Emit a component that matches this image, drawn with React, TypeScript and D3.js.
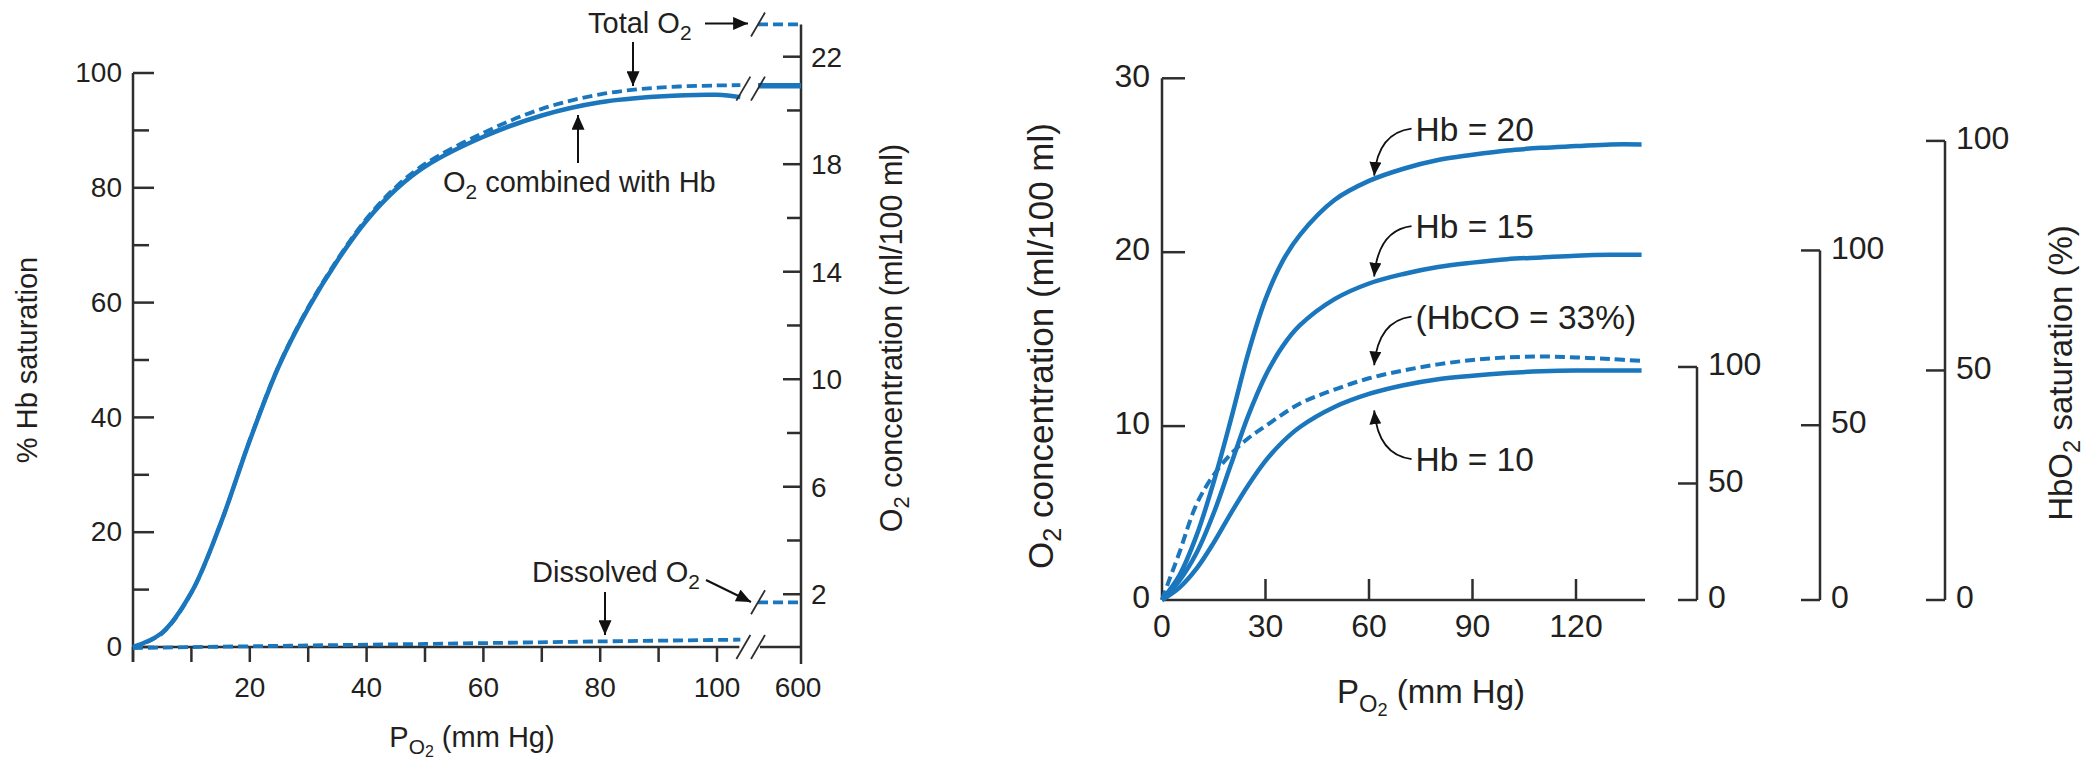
import React from "react";
import * as d3 from "d3";

// ---------- Left chart data ----------
const po2Left = [0, 5, 10, 15, 20, 25, 30, 35, 40, 45, 50, 60, 70, 80, 90, 100, 104];
const hbSaturationPct = [0, 2.5, 9.5, 21.5, 36, 49, 59, 67.3, 74.3, 79.7, 83.7, 88.9, 92.6, 94.9, 95.9, 96.2, 95.8];
const totalO2Ml = [0, 0.55, 2.06, 4.63, 7.74, 10.53, 12.68, 14.46, 15.98, 17.15, 18.01, 19.17, 20.06, 20.6, 20.85, 20.93, 20.94];
const po2Dissolved = [0, 25, 50, 75, 104];
const dissolvedMl = [0, 0.08, 0.15, 0.23, 0.31];
const po2Break = [595, 600];
const totalO2At600 = 23.2;
const hbSatAt600 = 97.8;
const dissolvedAt600 = 1.7;
const leftYTicks = [0, 10, 20, 30, 40, 50, 60, 70, 80, 90, 100];
const leftYLabels = [0, 20, 40, 60, 80, 100];
const leftXTicks = [0, 10, 20, 30, 40, 50, 60, 70, 80, 90, 100];
const leftXLabels = [20, 40, 60, 80, 100];
const breakLabel = 600;
const mlTicks = [2, 4, 6, 8, 10, 12, 14, 16, 18, 20, 22];
const mlLabels = [2, 6, 10, 14, 18, 22];

// ---------- Right chart data ----------
const po2Right = [0, 5, 10, 15, 20, 25, 30, 35, 40, 50, 60, 70, 80, 90, 100, 110, 120, 130, 139];
const hb20 = [0, 1.4, 3.7, 6.8, 10.4, 14.2, 17.3, 19.5, 21.0, 23.0, 24.1, 24.8, 25.3, 25.6, 25.85, 26.0, 26.1, 26.2, 26.2];
const hb15 = [0, 1.1, 2.7, 5.0, 7.8, 10.6, 12.9, 14.6, 15.8, 17.3, 18.2, 18.75, 19.15, 19.4, 19.6, 19.7, 19.8, 19.85, 19.85];
const hb10 = [0, 0.7, 1.8, 3.3, 5.0, 6.6, 8.0, 9.1, 9.95, 11.1, 11.85, 12.35, 12.7, 12.9, 13.05, 13.15, 13.2, 13.2, 13.2];
const po2HbCO = [0, 2, 5, 10, 15, 20, 25, 30, 40, 50, 60, 70, 80, 90, 100, 110, 120, 130, 139];
const hbco33 = [0, 1.1, 2.7, 5.5, 7.2, 8.4, 9.3, 10.0, 11.3, 12.1, 12.75, 13.2, 13.55, 13.8, 13.95, 14.0, 13.95, 13.85, 13.75];
const rightXTicks = [0, 30, 60, 90, 120];
const rightYTicks = [0, 10, 20, 30];
const hbLevels = [10, 15, 20];
const hbCapacityMl = [13.4, 20.1, 26.4];
const satTicks = [0, 50, 100];
const curveLabels = ["Hb = 20", "Hb = 15", "(HbCO = 33%)", "Hb = 10"];
const labelMl = [27.1, 21.5, 16.3, 8.1];
const arrowTipMl = [24.4, 18.6, 13.5, 10.9];

// ---------- styles ----------
const BLUE = "#1a76bd";
const INK = "#231f20";
const AXIS = "#2e2e2e";
const FONT = "'Liberation Sans', Arial, Helvetica, sans-serif";

export default function App() {
  const xL = d3.scaleLinear().domain([0, 100]).range([133, 717]);
  const yPct = d3.scaleLinear().domain([0, 100]).range([647, 73]);
  const yMl = d3.scaleLinear().domain([0, 22]).range([648, 56.7]);
  const xBr = d3.scaleLinear().domain([595, 600]).range([758, 801]);

  const xR = d3.scaleLinear().domain([0, 140]).range([1162, 1645]);
  const yR = d3.scaleLinear().domain([0, 30]).range([600, 78.3]);
  const secX = [1697, 1820, 1945];

  const lineL = d3.line<[number, number]>().curve(d3.curveCatmullRom.alpha(0.5));

  const hbPath = lineL(po2Left.map((p, i) => [xL(p), yPct(hbSaturationPct[i])]));
  const totPath = lineL(po2Left.map((p, i) => [xL(p), yMl(totalO2Ml[i])]));
  const disPath = lineL(po2Dissolved.map((p, i) => [xL(p), yMl(dissolvedMl[i])]));

  const rPath = (xs: number[], ys: number[]) =>
    lineL(xs.map((p, i) => [xR(p), yR(ys[i])]));

  const slash = (cx: number, cy: number, key: string) => (
    <line key={key} x1={cx - 7} y1={cy + 12} x2={cx + 7} y2={cy - 12} stroke={AXIS} strokeWidth={1.8} />
  );

  const breakLeft = xL(104) + 3;
  const breakRight = xBr(595);

  const tickFontL = 28;
  const annFontL = 29;
  const tickFontR = 32;
  const annFontR = 33.5;

  return (
    <svg
      width={2097}
      height={764}
      style={{ position: "absolute", left: 0, top: 0, background: "#fff" }}
      fontFamily={FONT}
    >
      <defs>
        <marker id="ah" markerUnits="userSpaceOnUse" viewBox="0 0 16 14" markerWidth={16} markerHeight={13} refX={16} refY={7} orient="auto">
          <path d="M0,0 L16,7 L0,14 Z" fill="#111" />
        </marker>
        <marker id="ahs" markerUnits="userSpaceOnUse" viewBox="0 0 16 14" markerWidth={14} markerHeight={12} refX={16} refY={7} orient="auto">
          <path d="M0,0 L16,7 L0,14 Z" fill="#111" />
        </marker>
      </defs>

      {/* ================= LEFT CHART ================= */}
      <line x1={xL(0)} y1={yPct(100)} x2={xL(0)} y2={yPct(0) + 15} stroke={AXIS} strokeWidth={2.5} />
      {leftYTicks.map((t) => (
        <line key={"ly" + t} x1={xL(0)} x2={xL(0) + (t % 20 === 0 ? 21 : 16)} y1={yPct(t)} y2={yPct(t)} stroke={AXIS} strokeWidth={2.5} />
      ))}
      {leftYLabels.map((t) => (
        <text key={"lyl" + t} x={xL(0) - 11} y={yPct(t)} dy="0.33em" textAnchor="end" fontSize={tickFontL} fill={INK}>{t}</text>
      ))}
      <line x1={xL(0)} y1={yPct(0)} x2={breakLeft - 4} y2={yPct(0)} stroke={AXIS} strokeWidth={2.5} />
      <line x1={breakRight + 2} y1={yPct(0)} x2={xBr(600)} y2={yPct(0)} stroke={AXIS} strokeWidth={2.5} />
      {leftXTicks.map((t) => (
        <line key={"lx" + t} x1={xL(t)} x2={xL(t)} y1={yPct(0)} y2={yPct(0) + 15} stroke={AXIS} strokeWidth={2.5} />
      ))}
      {leftXLabels.map((t) => (
        <text key={"lxl" + t} x={xL(t)} y={697} textAnchor="middle" fontSize={tickFontL} fill={INK}>{t}</text>
      ))}
      <text x={xBr(600) - 3} y={697} textAnchor="middle" fontSize={tickFontL} fill={INK}>{breakLabel}</text>
      {slash(breakLeft, yPct(0), "bs1")}
      {slash(breakRight, yPct(0), "bs2")}

      <line x1={xBr(600)} y1={yMl(totalO2At600)} x2={xBr(600)} y2={yMl(0) + 16} stroke={AXIS} strokeWidth={2.5} />
      {mlTicks.map((t) => (
        <line key={"ry" + t} x1={xBr(600)} x2={xBr(600) - (mlLabels.includes(t) ? 18 : 14)} y1={yMl(t)} y2={yMl(t)} stroke={AXIS} strokeWidth={2.5} />
      ))}
      {mlLabels.map((t) => (
        <text key={"ryl" + t} x={xBr(600) + 10} y={yMl(t)} dy="0.35em" fontSize={tickFontL} fill={INK}>{t}</text>
      ))}

      <path d={totPath || ""} fill="none" stroke={BLUE} strokeWidth={3.8} strokeDasharray="10 5" />
      <path d={hbPath || ""} fill="none" stroke={BLUE} strokeWidth={4.5} />
      <path d={disPath || ""} fill="none" stroke={BLUE} strokeWidth={3.8} strokeDasharray="10 5" />

      <line x1={xBr(po2Break[0])} x2={xBr(po2Break[1])} y1={yMl(totalO2At600)} y2={yMl(totalO2At600)} stroke={BLUE} strokeWidth={3.8} strokeDasharray="10 5" />
      <line x1={xBr(po2Break[0])} x2={xBr(po2Break[1])} y1={yPct(hbSatAt600)} y2={yPct(hbSatAt600)} stroke={BLUE} strokeWidth={5.5} />
      <line x1={xBr(po2Break[0])} x2={xBr(po2Break[1])} y1={yMl(dissolvedAt600)} y2={yMl(dissolvedAt600)} stroke={BLUE} strokeWidth={3.8} strokeDasharray="10 5" />
      {slash(breakRight, yMl(totalO2At600), "ts")}
      {slash(breakLeft, yPct(hbSatAt600) + 3, "hs1")}
      {slash(breakRight, yPct(hbSatAt600) + 3, "hs2")}
      {slash(breakRight, yMl(dissolvedAt600), "ds")}

      <text x={588} y={33} fontSize={annFontL} fill={INK}>
        Total O<tspan dy={7} fontSize="0.72em">2</tspan>
      </text>
      <line x1={705} y1={yMl(totalO2At600) - 1} x2={748} y2={yMl(totalO2At600) - 1} stroke="#111" strokeWidth={2} markerEnd="url(#ah)" />
      <line x1={633} y1={42} x2={633} y2={86} stroke="#111" strokeWidth={2} markerEnd="url(#ah)" />

      <text x={443} y={192} fontSize={annFontL} fill={INK}>
        O<tspan dy={7} fontSize="0.72em">2</tspan><tspan dy={-7}> combined with Hb</tspan>
      </text>
      <line x1={578} y1={163} x2={578} y2={115} stroke="#111" strokeWidth={2} markerEnd="url(#ah)" />

      <text x={532} y={582} fontSize={annFontL} fill={INK}>
        Dissolved O<tspan dy={7} fontSize="0.72em">2</tspan>
      </text>
      <line x1={605} y1={592} x2={605} y2={635} stroke="#111" strokeWidth={2} markerEnd="url(#ah)" />
      <line x1={706} y1={580} x2={751} y2={602} stroke="#111" strokeWidth={2} markerEnd="url(#ah)" />

      <text transform="translate(37,360) rotate(-90)" textAnchor="middle" fontSize={annFontL} fill={INK}>% Hb saturation</text>
      <text transform="translate(902,338) rotate(-90)" textAnchor="middle" fontSize={30.5} fill={INK}>
        O<tspan dy={7} fontSize="0.72em">2</tspan><tspan dy={-7}> concentration (ml/100 ml)</tspan>
      </text>
      <text x={472} y={747} textAnchor="middle" fontSize={annFontL} fill={INK}>
        P<tspan dy={7} fontSize="0.72em">O</tspan><tspan dy={3} fontSize="0.55em">2</tspan><tspan dy={-10}> (mm Hg)</tspan>
      </text>

      {/* ================= RIGHT CHART ================= */}
      <line x1={xR(0)} y1={yR(30)} x2={xR(0)} y2={yR(0)} stroke={AXIS} strokeWidth={2.5} />
      <line x1={xR(0)} y1={yR(0)} x2={xR(140)} y2={yR(0)} stroke={AXIS} strokeWidth={2.5} />
      {rightYTicks.filter((t) => t > 0).map((t) => (
        <line key={"rty" + t} x1={xR(0)} x2={xR(0) + 23} y1={yR(t)} y2={yR(t)} stroke={AXIS} strokeWidth={2.5} />
      ))}
      {rightYTicks.map((t) => (
        <text key={"rtyl" + t} x={xR(0) - 12} y={yR(t) - 3} dy="0.35em" textAnchor="end" fontSize={tickFontR} fill={INK}>{t}</text>
      ))}
      {rightXTicks.filter((t) => t > 0).map((t) => (
        <line key={"rtx" + t} x1={xR(t)} x2={xR(t)} y1={yR(0)} y2={yR(0) - 21} stroke={AXIS} strokeWidth={2.5} />
      ))}
      {rightXTicks.map((t) => (
        <text key={"rtxl" + t} x={xR(t)} y={637} textAnchor="middle" fontSize={tickFontR} fill={INK}>{t}</text>
      ))}

      <path d={rPath(po2Right, hb20) || ""} fill="none" stroke={BLUE} strokeWidth={4.5} />
      <path d={rPath(po2Right, hb15) || ""} fill="none" stroke={BLUE} strokeWidth={4.5} />
      <path d={rPath(po2Right, hb10) || ""} fill="none" stroke={BLUE} strokeWidth={4.5} />
      <path d={rPath(po2HbCO, hbco33) || ""} fill="none" stroke={BLUE} strokeWidth={4} strokeDasharray="10 5" />

      {curveLabels.map((lab, i) => {
        const tx = xR(73.5);
        const ty = yR(labelMl[i]);
        const tipX = xR(61.5);
        const tipY = yR(arrowTipMl[i]);
        const sx = tx - 4;
        const cx = tipX + 4;
        const cy = ty + (tipY > ty ? 4 : -4);
        return (
          <g key={"cl" + i}>
            <path d={`M${sx},${ty} Q${cx},${cy} ${tipX},${tipY}`} fill="none" stroke="#111" strokeWidth={1.8} markerEnd="url(#ahs)" />
            <text x={tx} y={ty} dy="0.36em" fontSize={annFontR} fill={INK}>{lab}</text>
          </g>
        );
      })}

      {hbLevels.map((hb, i) => {
        const ys = d3.scaleLinear().domain([0, 100]).range([yR(0), yR(hbCapacityMl[i])]);
        const ax = secX[i];
        return (
          <g key={"sec" + hb}>
            <line x1={ax} x2={ax} y1={ys(0)} y2={ys(100)} stroke={AXIS} strokeWidth={2.5} />
            {satTicks.map((t) => (
              <g key={t}>
                <line x1={ax - 19} x2={ax} y1={ys(t)} y2={ys(t)} stroke={AXIS} strokeWidth={2.5} />
                <text x={ax + 11} y={ys(t) - 3} dy="0.35em" fontSize={tickFontR} fill={INK}>{t}</text>
              </g>
            ))}
          </g>
        );
      })}

      <text transform="translate(1053,346) rotate(-90)" textAnchor="middle" fontSize={35} fill={INK}>
        O<tspan dy={8} fontSize="0.72em">2</tspan><tspan dy={-8}> concentration (ml/100 ml)</tspan>
      </text>
      <text transform="translate(2072,373) rotate(-90)" textAnchor="middle" fontSize={33} fill={INK}>
        HbO<tspan dy={8} fontSize="0.72em">2</tspan><tspan dy={-8}> saturation (%)</tspan>
      </text>
      <text x={1431} y={703} textAnchor="middle" fontSize={33} fill={INK}>
        P<tspan dy={9} fontSize="0.72em">O</tspan><tspan dy={4} fontSize="0.55em">2</tspan><tspan dy={-13}> (mm Hg)</tspan>
      </text>
    </svg>
  );
}
